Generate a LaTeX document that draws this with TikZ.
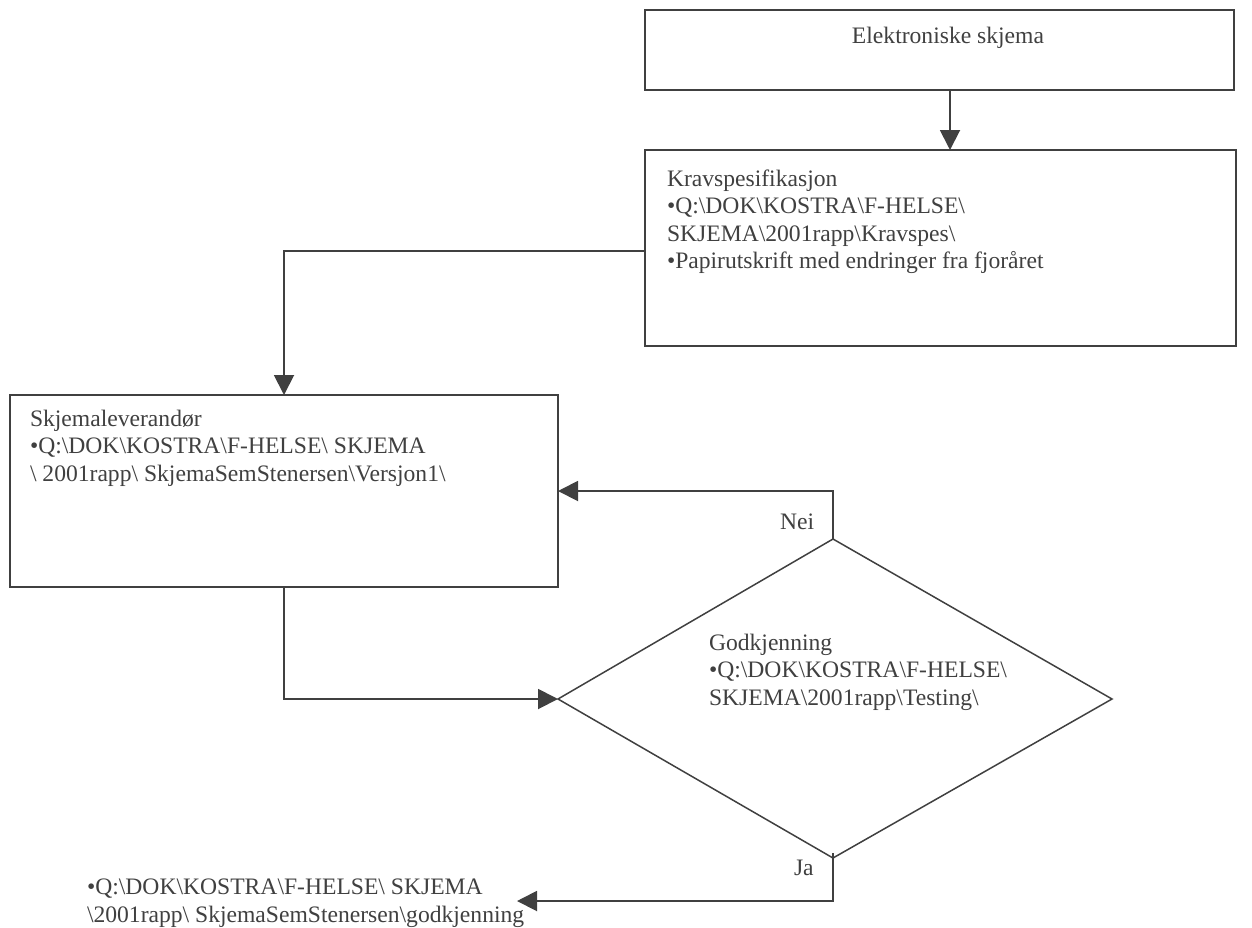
\documentclass[tikz,border=0pt]{standalone}
\usepackage{fontspec}
\setmainfont{Liberation Serif}
\usetikzlibrary{arrows.meta,calc}
\definecolor{ln}{HTML}{404040}
\definecolor{txt}{HTML}{404040}
\newcommand\bsl{\textbackslash}
\begin{document}
\begin{tikzpicture}[x=1pt,y=-1pt,
  every node/.style={inner sep=0pt, outer sep=0pt, font=\fontsize{23.6}{27.5}\selectfont, text=txt},
  box/.style={draw=ln, line width=1.9pt, rectangle, anchor=north west},
  lbl/.style={anchor=north west, align=left},
  arr/.style={draw=ln, line width=1.9pt, -{Triangle[length=20pt,width=20pt]}}]
\useasboundingbox (0,0) rectangle (1252,927);
% boxes
\node[box, minimum width=589pt, minimum height=80pt] (b1) at (645,10) {};
\node[box, minimum width=591pt, minimum height=196pt] (b2) at (645,150) {};
\node[box, minimum width=548pt, minimum height=192pt] (b3) at (10,395) {};
% diamond
\coordinate (dl) at (558,699);
\coordinate (dt) at (833,539);
\coordinate (dr) at (1112,699);
\coordinate (db) at (833,858);
\draw[ln, line width=1.5pt] (dl) -- (dt) -- (dr) -- (db) -- cycle;
% texts
\node[anchor=base] (t1) at (948,43) {Elektroniske skjema};
\node[lbl] (t2) at (667,166.75) {\strut Kravspesifikasjon\\
  •Q:\bsl DOK\bsl KOSTRA\bsl F-HELSE\bsl\\
  SKJEMA\bsl 2001rapp\bsl Kravspes\bsl\\
  •Papirutskrift med endringer fra fjoråret};
\node[lbl] (t3) at (30,406.75) {\strut Skjemaleverandør\\
  •Q:\bsl DOK\bsl KOSTRA\bsl F-HELSE\bsl{} SKJEMA\\
  \bsl{} 2001rapp\bsl{} SkjemaSemStenersen\bsl Versjon1\bsl};
\node[lbl] (t4) at (709,630.75) {\strut Godkjenning\\
  •Q:\bsl DOK\bsl KOSTRA\bsl F-HELSE\bsl\\
  SKJEMA\bsl 2001rapp\bsl Testing\bsl};
\node[lbl] (t5) at (87,875.25) {\strut •Q:\bsl DOK\bsl KOSTRA\bsl F-HELSE\bsl{} SKJEMA\\
  \bsl 2001rapp\bsl{} SkjemaSemStenersen\bsl godkjenning};
\node[anchor=base west] (nei) at (780,529) {Nei};
\node[anchor=base west] (ja) at (794,875) {Ja};
% connectors
\coordinate (a1) at (950,90);
\coordinate (k) at (284,251);
\coordinate (jstart) at (833,853);
\coordinate (jend) at (517,901);
\draw[arr] (b1.south -| a1) -- (b2.north -| a1);
\draw[arr] (b2.west |- k) -| (b3.north);
\draw[arr] (b3.south) |- (dl);
\draw[arr] (dt) |- (b3.east);
\draw[arr] (jstart) |- (jend);
\end{tikzpicture}
\end{document}
